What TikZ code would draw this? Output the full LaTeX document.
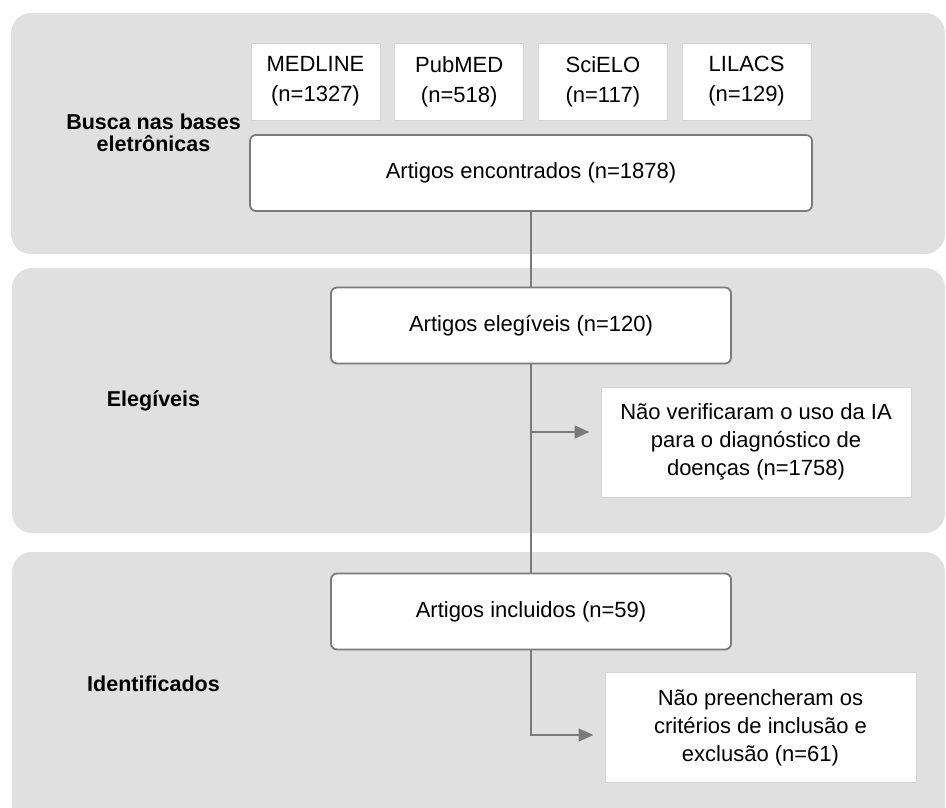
\documentclass[tikz,border=0pt]{standalone}
\usepackage{fontspec}
\setmainfont{Liberation Sans}
\usetikzlibrary{arrows.meta,positioning}
\definecolor{panelgray}{RGB}{224,224,224}
\definecolor{linegray}{RGB}{122,122,122}
\definecolor{edgegray}{RGB}{212,212,212}

\begin{document}
\begin{tikzpicture}[x=1pt,y=-1pt,
  panel/.style={fill=panelgray,rounded corners=20pt},
  stage/.style={font=\fontsize{21.5}{22}\selectfont\bfseries,align=center},
  srcbox/.style={draw=edgegray,fill=white,line width=1pt,minimum width=129pt,
    minimum height=77pt,align=center,inner sep=0pt,font=\fontsize{22}{30}\selectfont},
  mainbox/.style={draw=linegray,fill=white,line width=1.8pt,rounded corners=6pt,
    minimum height=76pt,inner sep=0pt,font=\fontsize{22}{28}\selectfont},
  sidebox/.style={draw=edgegray,fill=white,line width=1pt,minimum width=310pt,
    minimum height=110pt,align=center,inner sep=0pt,font=\fontsize{22}{28}\selectfont},
  link/.style={draw=linegray,line width=1.5pt},
  excl/.style={link,-{Triangle[length=15pt,width=13pt]},shorten >=11pt}
]
  \useasboundingbox (0,0) rectangle (946,807);
  \clip (0,0) rectangle (946,807);

  % stage panels
  \fill[panel] (11,13) rectangle (945,254);
  \fill[panel] (12,268) rectangle (945,533);
  \fill[panel] (12,552) rectangle (945,840);

  \node[stage] (busca) at (153.5,133) {Busca nas bases\\eletrônicas};
  \node[stage] (eleg) at (153.5,401) {Elegíveis};
  \node[stage] (ident) at (153.5,684) {Identificados};

  \foreach \db/\n [count=\i] in {MEDLINE/1327,PubMED/518,SciELO/117,LILACS/129} {
    \node[srcbox] (src\i) at ({315.5+143.7*(\i-1)},81.5) {\db\\(n=\n)};
  }

  \node[mainbox,minimum width=562pt] (found) at (531,173) {Artigos encontrados (n=1878)};
  \node[mainbox,minimum width=400pt] (elig) at (531,325.5) {Artigos elegíveis (n=120)};
  \node[mainbox,minimum width=400pt] (incl) at (531,611.5) {Artigos incluidos (n=59)};

  \node[sidebox] (nver) at (756,442)
    {Não verificaram o uso da IA\\para o diagnóstico de\\doenças (n=1758)};
  \node[sidebox,minimum width=311pt] (npre) at (760.5,727.5)
    {Não preencheram os\\critérios de inclusão e\\exclusão (n=61)};

  \draw[link] (found) -- (elig);
  \draw[link] (elig) -- (incl);
  \coordinate (j1) at (531,432);
  \draw[excl] (j1) -- (j1 -| nver.west);
  \draw[excl] (incl.south) |- ([yshift=-7.5pt]npre.west);
\end{tikzpicture}
\end{document}
